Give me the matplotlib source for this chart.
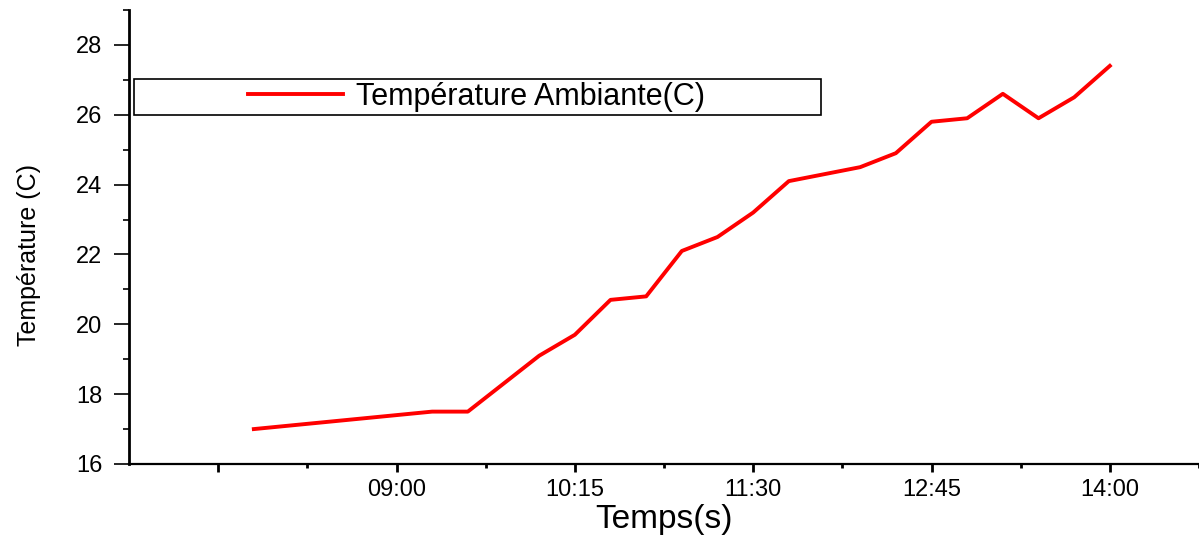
"""Ambient temperature over the day, single red trace with boxed legend."""

import matplotlib

matplotlib.use("Agg")
import matplotlib.pyplot as plt
from matplotlib.patches import Rectangle
from matplotlib.ticker import FixedLocator, MultipleLocator

plt.rcParams["font.family"] = ["Liberation Sans", "DejaVu Sans"]

# readings (clock time, degrees C)
times = ["08:00", "09:15", "09:30", "10:00", "10:15", "10:30", "10:45",
         "11:00", "11:15", "11:30", "11:45", "12:15", "12:30", "12:45",
         "13:00", "13:15", "13:30", "13:45", "14:00"]
temps = [17.0, 17.5, 17.5, 19.1, 19.7, 20.7, 20.8,
         22.1, 22.5, 23.2, 24.1, 24.5, 24.9, 25.8,
         25.9, 26.6, 25.9, 26.5, 27.4]

tick_times = ["07:45", "09:00", "10:15", "11:30", "12:45", "14:00"]
tick_labels = ["", "09:00", "10:15", "11:30", "12:45", "14:00"]


def minutes(hhmm):
    h, m = hhmm.split(":")
    return int(h) * 60 + int(m)


x = [minutes(t) for t in times]
major = [minutes(t) for t in tick_times]
minor = [m + 37.5 for m in major]

fig = plt.figure(figsize=(11.99, 5.36), dpi=100)
ax = fig.add_axes([129 / 1199, 72 / 536, 1070 / 1199, 454 / 536])

line, = ax.plot(x, temps, color="#ff0000", lw=2.8, label="Température Ambiante(C)")

ax.set_xlim(427.5, 877.5)
ax.set_ylim(16, 29)

ax.xaxis.set_major_locator(FixedLocator(major))
ax.xaxis.set_minor_locator(FixedLocator(minor))
ax.set_xticklabels(tick_labels)
ax.yaxis.set_major_locator(MultipleLocator(2))
ax.yaxis.set_minor_locator(MultipleLocator(1))
ax.set_yticks(range(16, 29, 2))

for side in ("top", "right"):
    ax.spines[side].set_visible(False)
ax.spines["left"].set_linewidth(2.0)
ax.spines["bottom"].set_linewidth(1.6)

ax.tick_params(axis="x", which="major", length=6, width=2.0, labelsize=17, pad=5)
ax.tick_params(axis="x", which="minor", length=3, width=2.0)
ax.tick_params(axis="y", which="major", length=11, width=1.2, labelsize=17, pad=8)
ax.tick_params(axis="y", which="minor", length=4.5, width=1.2)

ax.set_xlabel("Temps(s)", fontsize=24, labelpad=2)
ax.set_ylabel("Température (C)", fontsize=18)
ax.yaxis.set_label_coords(-0.082, 0.46)

# legend frame drawn as its own box, entry centred inside it
ax.add_patch(Rectangle((0.0047, 0.769), 0.642, 0.079, transform=ax.transAxes,
                       fill=False, ec="black", lw=1.2, zorder=3))
ax.legend(handles=[line], loc="center", bbox_to_anchor=(0.325, 0.8085),
          frameon=False, fontsize=22, handlelength=3.1, handletextpad=0.45)

fig.savefig("out.png", dpi=100)
